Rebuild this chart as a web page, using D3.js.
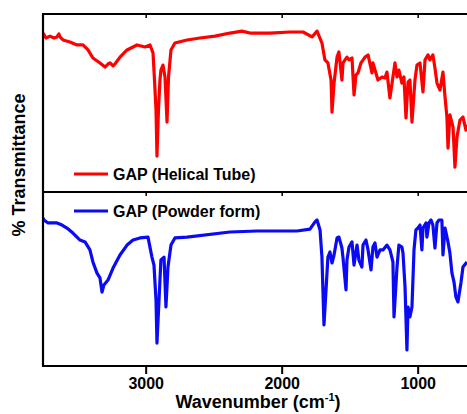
<!DOCTYPE html>
<html>
<head>
<meta charset="utf-8">
<script src="https://cdn.jsdelivr.net/npm/d3@7"></script>
<style>
  body { margin: 0; background: #fff; }
  svg { display: block; }
  text { font-family: "Liberation Sans", Arial, sans-serif; font-weight: bold; }
</style>
</head>
<body>
<div id="chart"></div>
<script>
//tick labels on the wavenumber axis
var xTicks = [3000, 2000, 1000];

//series names
var seriesNames = ["GAP (Helical Tube)", "GAP (Powder form)"];

//helical tube spectrum: wavenumber and transmittance (arbitrary %)
var tubeWn = [3755, 3733, 3704, 3674, 3652, 3638, 3630, 3608, 3557, 3505, 3461, 3424, 3388, 3336, 3299, 3277, 3262, 3240, 3226, 3189, 3137, 3064, 3005, 2968, 2946, 2939, 2924, 2917, 2906, 2895, 2888, 2873, 2858, 2843, 2832, 2814, 2785, 2696, 2601, 2490, 2380, 2292, 2233, 2086, 1939, 1843, 1777, 1740, 1704, 1682, 1660, 1637, 1630, 1615, 1593, 1579, 1557, 1549, 1520, 1505, 1483, 1468, 1454, 1439, 1417, 1387, 1365, 1336, 1329, 1307, 1292, 1262, 1240, 1226, 1204, 1182, 1167, 1152, 1138, 1116, 1101, 1086, 1071, 1057, 1042, 1020, 1005, 983, 961, 946, 924, 910, 888, 873, 858, 836, 814, 799, 785, 777, 763, 740, 726, 711, 689, 667, 645, 630];
var tubeT = [89.3, 86.5, 87.6, 86.5, 87.1, 88.8, 87.1, 85.4, 84.3, 82.6, 82.6, 79.8, 75.3, 72.5, 70.2, 71.9, 72.5, 70.8, 71.9, 75.8, 79.8, 82.6, 81.5, 82.6, 78.1, 68.5, 46.1, 20.2, 46.1, 62.9, 68.5, 71.3, 64.6, 39.3, 64.6, 79.8, 83.7, 85.4, 86.5, 87.6, 89.3, 90.4, 89.3, 89.3, 89.9, 89.9, 87.1, 90.4, 83.7, 74.2, 72.5, 62.9, 44.9, 61.2, 75.8, 78.7, 62.9, 72.5, 75.8, 74.2, 75.3, 54.5, 65.7, 66.9, 72.5, 75.8, 77.0, 66.9, 72.5, 66.9, 62.9, 64.6, 64.0, 67.4, 52.8, 64.6, 72.5, 64.6, 68.5, 61.2, 64.6, 41.6, 61.8, 62.9, 39.3, 62.9, 71.3, 72.5, 56.2, 74.2, 77.0, 74.2, 77.0, 69.7, 61.2, 57.3, 67.4, 53.4, 42.1, 24.7, 43.3, 36.5, 14.0, 30.9, 40.4, 42.1, 34.8, 37.6];

//powder form spectrum
var powderWn = [3755, 3748, 3718, 3652, 3615, 3579, 3535, 3483, 3446, 3410, 3388, 3358, 3336, 3321, 3307, 3277, 3240, 3189, 3137, 3093, 3042, 2983, 2954, 2939, 2924, 2917, 2902, 2888, 2865, 2851, 2836, 2814, 2785, 2696, 2380, 2181, 1887, 1792, 1755, 1740, 1718, 1704, 1689, 1674, 1660, 1645, 1630, 1615, 1593, 1579, 1557, 1549, 1527, 1520, 1505, 1483, 1468, 1446, 1432, 1410, 1402, 1380, 1365, 1343, 1329, 1314, 1299, 1277, 1255, 1226, 1204, 1182, 1174, 1152, 1138, 1116, 1108, 1093, 1079, 1071, 1057, 1042, 1027, 1013, 998, 983, 969, 961, 939, 932, 917, 902, 888, 873, 858, 844, 822, 814, 799, 777, 763, 748, 733, 719, 704, 682, 667, 638];
var powderT = [85.1, 83.9, 82.2, 82.2, 81.0, 79.3, 76.4, 72.4, 71.3, 66.7, 59.8, 53.4, 50.6, 42.5, 46.6, 49.4, 56.3, 63.8, 69.5, 72.4, 73.6, 74.1, 62.6, 58.0, 37.9, 13.2, 37.9, 60.9, 62.6, 33.9, 56.9, 69.5, 73.6, 74.1, 77.0, 77.6, 77.6, 78.7, 82.8, 83.9, 78.2, 62.6, 23.6, 43.7, 62.6, 65.5, 59.2, 63.8, 73.6, 74.1, 67.8, 62.1, 43.7, 60.9, 68.4, 71.3, 58.0, 69.5, 60.9, 56.9, 69.5, 72.4, 66.7, 55.2, 68.4, 70.7, 62.6, 66.7, 66.7, 69.5, 66.7, 59.8, 28.2, 56.9, 69.5, 68.4, 64.9, 45.4, 9.2, 33.9, 28.2, 33.9, 66.7, 78.2, 79.3, 81.0, 66.7, 79.3, 82.2, 74.1, 82.2, 83.9, 81.0, 67.8, 82.2, 83.9, 83.9, 63.8, 79.3, 71.3, 64.9, 53.4, 48.3, 39.7, 36.8, 47.7, 56.9, 59.8];

var width = 467, height = 414;
var left = 43, top1 = 14, mid = 192, bottom = 366;
var rightEdge = 480; //frame continues past the window edge

var svg = d3.select("#chart")
  .append("svg")
  .attr("width", width)
  .attr("height", height);

//x scale, 3000 -> 145.7 px, 1000 -> 417.7 px
var xScale = d3.scaleLinear()
  .domain([3755, 540])
  .range([left, left + (3755 - 540) * 0.136]);

var yTop = d3.scaleLinear().domain([0, 100]).range([mid, top1]);
var yBottom = d3.scaleLinear().domain([0, 100]).range([bottom, mid]);

//clip paths for each panel
var defs = svg.append("defs");
defs.append("clipPath").attr("id", "clipTop")
  .append("rect").attr("x", left + 1).attr("y", top1 + 1)
  .attr("width", rightEdge - left).attr("height", mid - top1 - 2);
defs.append("clipPath").attr("id", "clipBottom")
  .append("rect").attr("x", left + 1).attr("y", mid + 1)
  .attr("width", rightEdge - left).attr("height", bottom - mid - 2);

var toPoints = function(wn, t) {
  return wn.map(function(d, i) { return { wn: d, t: t[i] }; });
};

var lineTop = d3.line()
  .x(function(d) { return xScale(d.wn); })
  .y(function(d) { return yTop(d.t); });

var lineBottom = d3.line()
  .x(function(d) { return xScale(d.wn); })
  .y(function(d) { return yBottom(d.t); });

svg.append("path")
  .datum(toPoints(tubeWn, tubeT))
  .attr("clip-path", "url(#clipTop)")
  .attr("d", lineTop)
  .attr("fill", "none")
  .attr("stroke", "#ff0000")
  .attr("stroke-width", 3.2)
  .attr("stroke-linejoin", "round");

svg.append("path")
  .datum(toPoints(powderWn, powderT))
  .attr("clip-path", "url(#clipBottom)")
  .attr("d", lineBottom)
  .attr("fill", "none")
  .attr("stroke", "#0a0af5")
  .attr("stroke-width", 3.2)
  .attr("stroke-linejoin", "round");

//frame lines
var frame = svg.append("g")
  .attr("stroke", "black")
  .attr("stroke-width", 2.2)
  .attr("fill", "none");
frame.append("line").attr("x1", left).attr("x2", left).attr("y1", top1).attr("y2", bottom);
[top1, mid, bottom].forEach(function(y) {
  frame.append("line").attr("x1", left - 1).attr("x2", rightEdge).attr("y1", y).attr("y2", y);
});

//bottom axis with labels
var xAxis = d3.axisBottom(xScale)
  .tickValues(xTicks)
  .tickSize(8)
  .tickPadding(4)
  .tickFormat(d3.format("d"));
var gx = svg.append("g")
  .attr("transform", "translate(0," + bottom + ")")
  .call(xAxis);
gx.select(".domain").remove();
gx.selectAll("line").attr("stroke-width", 2);
gx.selectAll("text")
  .attr("font-size", 16)
  .attr("fill", "black");

//small inner ticks at top of each panel
[top1, mid].forEach(function(y) {
  var g = svg.append("g")
    .attr("transform", "translate(0," + y + ")")
    .call(d3.axisBottom(xScale).tickValues(xTicks).tickSize(4).tickFormat(""));
  g.select(".domain").remove();
  g.selectAll("line").attr("stroke-width", 1.5);
});

//axis titles
var xTitle = svg.append("text")
  .attr("x", 258)
  .attr("y", 408)
  .attr("text-anchor", "middle")
  .attr("font-size", 18)
  .attr("fill", "black");
xTitle.append("tspan").text("Wavenumber (cm");
xTitle.append("tspan").attr("font-size", 11).attr("dy", -7).text("-1");
xTitle.append("tspan").attr("dy", 7).text(")");

svg.append("text")
  .attr("transform", "translate(25,165) rotate(-90)")
  .attr("text-anchor", "middle")
  .attr("font-size", 18)
  .attr("fill", "black")
  .text("% Transmittance");

//legends
var legends = [
  { name: seriesNames[0], color: "#ff0000", y: 174 },
  { name: seriesNames[1], color: "#0a0af5", y: 211 }
];
legends.forEach(function(l) {
  svg.append("line")
    .attr("x1", 74).attr("x2", 108)
    .attr("y1", l.y).attr("y2", l.y)
    .attr("stroke", l.color)
    .attr("stroke-width", 3.2);
  svg.append("text")
    .attr("x", 113)
    .attr("y", l.y + 6)
    .attr("font-size", 16)
    .attr("fill", "black")
    .text(l.name);
});
</script>
</body>
</html>
